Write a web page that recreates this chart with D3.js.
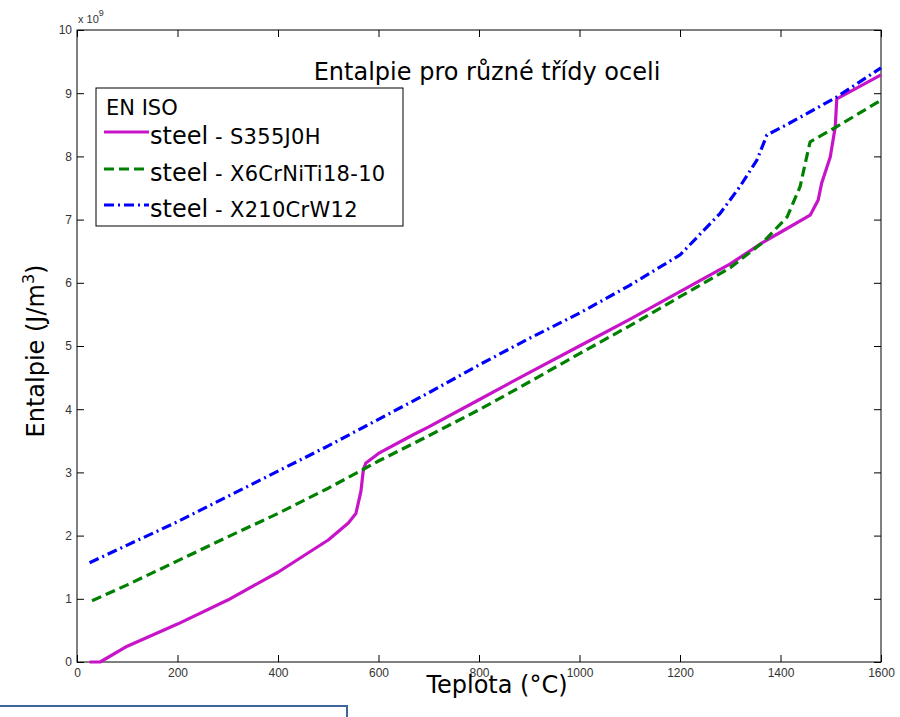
<!DOCTYPE html>
<html><head><meta charset="utf-8">
<script src="https://cdn.jsdelivr.net/npm/d3@7"></script>
<style>body{margin:0;background:#fff}svg{display:block}</style>
</head><body>
<svg id="c" width="900" height="717"></svg>
<script>
const seriesNames = ["steel - S355J0H","steel - X6CrNiTi18-10","steel - X210CrW12"];
const tempS355 = [25,46,100,200,300,400,500,540,555,565,570,575,600,670,700,800,900,1000,1100,1200,1300,1365,1400,1459,1475,1482,1499,1509,1512,1600];
const enthS355 = [0,0,0.25,0.6,0.98,1.42,1.93,2.2,2.35,2.7,3.05,3.15,3.3,3.6,3.72,4.15,4.58,5.0,5.42,5.86,6.3,6.64,6.8,7.07,7.31,7.58,7.99,8.47,8.91,9.29];
const tempX6 = [30,100,200,300,400,500,570,600,700,800,900,1000,1100,1200,1300,1365,1413,1439,1452,1459,1512,1600];
const enthX6 = [0.97,1.22,1.6,1.98,2.35,2.75,3.05,3.18,3.58,3.99,4.43,4.88,5.32,5.78,6.24,6.64,7.04,7.52,7.99,8.23,8.47,8.89];
const tempX210 = [25,100,200,300,400,500,600,700,800,900,1000,1100,1200,1280,1319,1353,1373,1412,1512,1600];
const enthX210 = [1.57,1.85,2.22,2.62,3.02,3.42,3.84,4.26,4.7,5.12,5.52,5.96,6.44,7.1,7.52,7.94,8.34,8.5,8.94,9.4];
const xTicks = [0,200,400,600,800,1000,1200,1400,1600];
const yTicks = [0,1,2,3,4,5,6,7,8,9,10];

const svg = d3.select("#c");
const L=77,R=881,T=30,B=662;
const x = d3.scaleLinear().domain([0,1600]).range([L,R]);
const y = d3.scaleLinear().domain([0,10]).range([B,T]);

const ax = svg.append("g");
ax.append("rect").attr("x",L).attr("y",T).attr("width",R-L).attr("height",B-T)
  .attr("fill","none").attr("stroke","#000").attr("stroke-width",1);
const tickFont = "'Liberation Sans', Arial, sans-serif";
const xb = svg.append("g").attr("transform",`translate(0,${B})`)
  .call(d3.axisBottom(x).tickValues(xTicks).tickSizeInner(-7).tickSizeOuter(0).tickPadding(6).tickFormat(d3.format("d")));
const xt = svg.append("g").attr("transform",`translate(0,${T})`)
  .call(d3.axisTop(x).tickValues(xTicks).tickSizeInner(-7).tickSizeOuter(0).tickFormat(""));
const yl = svg.append("g").attr("transform",`translate(${L},0)`)
  .call(d3.axisLeft(y).tickValues(yTicks).tickSizeInner(-7).tickSizeOuter(0).tickPadding(5).tickFormat(d3.format("d")));
const yr = svg.append("g").attr("transform",`translate(${R},0)`)
  .call(d3.axisRight(y).tickValues(yTicks).tickSizeInner(-7).tickSizeOuter(0).tickFormat(""));
[xb,xt,yl,yr].forEach(g=>{
  g.select(".domain").remove();
  g.selectAll("line").attr("stroke","#000");
  g.selectAll("text").attr("font-family",tickFont).attr("font-size",12).attr("fill","#333");
});
svg.append("text").attr("x",78).attr("y",23).attr("font-family",tickFont).attr("font-size",11).attr("fill","#333")
  .text("x 10").append("tspan").attr("dy",-7).attr("font-size",9).text("9");

const line = d3.line().x(d=>x(d[0])).y(d=>y(d[1]));
const data = [
  {t:tempS355,h:enthS355,color:"#c814c8",dash:null},
  {t:tempX6,h:enthX6,color:"#008000",dash:"10,5"},
  {t:tempX210,h:enthX210,color:"#0000ff",dash:"10,4,2,4"}
];
const plot = svg.append("g");
data.forEach(s=>{
  plot.append("path").datum(s.t.map((t,i)=>[t,s.h[i]])).attr("d",line)
    .attr("fill","none").attr("stroke",s.color).attr("stroke-width",3.2)
    .attr("stroke-dasharray",s.dash).attr("stroke-linejoin","round");
});

const tf = "'DejaVu Sans', Verdana, sans-serif";
svg.append("text").attr("x",487).attr("y",80).attr("text-anchor","middle")
  .attr("font-family",tf).attr("font-size",24).attr("fill","#000").text("Entalpie pro různé třídy oceli");

const lg = svg.append("g");
lg.append("rect").attr("x",96).attr("y",88).attr("width",307).attr("height",138)
  .attr("fill","#fff").attr("stroke","#000").attr("stroke-width",1);
lg.append("text").attr("x",106).attr("y",115).attr("font-family",tf).attr("font-size",21).text("EN ISO");
const ly=[132,169,205];
data.forEach((s,i)=>{
  lg.append("line").attr("x1",104).attr("x2",149).attr("y1",ly[i]).attr("y2",ly[i])
    .attr("stroke",s.color).attr("stroke-width",3).attr("stroke-dasharray",s.dash);
  const parts = seriesNames[i].split(" - ");
  const t = lg.append("text").attr("x",150).attr("y",ly[i]+12).attr("font-family",tf).attr("font-size",24);
  t.append("tspan").text(parts[0]);
  t.append("tspan").attr("font-size",21).attr("letter-spacing",0.3).text(" - "+parts[1]);
});

svg.append("text").attr("x",497).attr("y",693).attr("text-anchor","middle")
  .attr("font-family",tf).attr("font-size",24).text("Teplota (°C)");
const ylab = svg.append("text").attr("transform","translate(44,351) rotate(-90)").attr("text-anchor","middle")
  .attr("font-family",tf).attr("font-size",24);
ylab.append("tspan").text("Entalpie  (J/m");
ylab.append("tspan").attr("dy",-10).attr("font-size",16).text("3");
ylab.append("tspan").attr("dy",10).text(")");

svg.append("rect").attr("x",-2).attr("y",706).attr("width",349).attr("height",30)
  .attr("fill","none").attr("stroke","#3f6699").attr("stroke-width",2);
</script>
</body></html>
